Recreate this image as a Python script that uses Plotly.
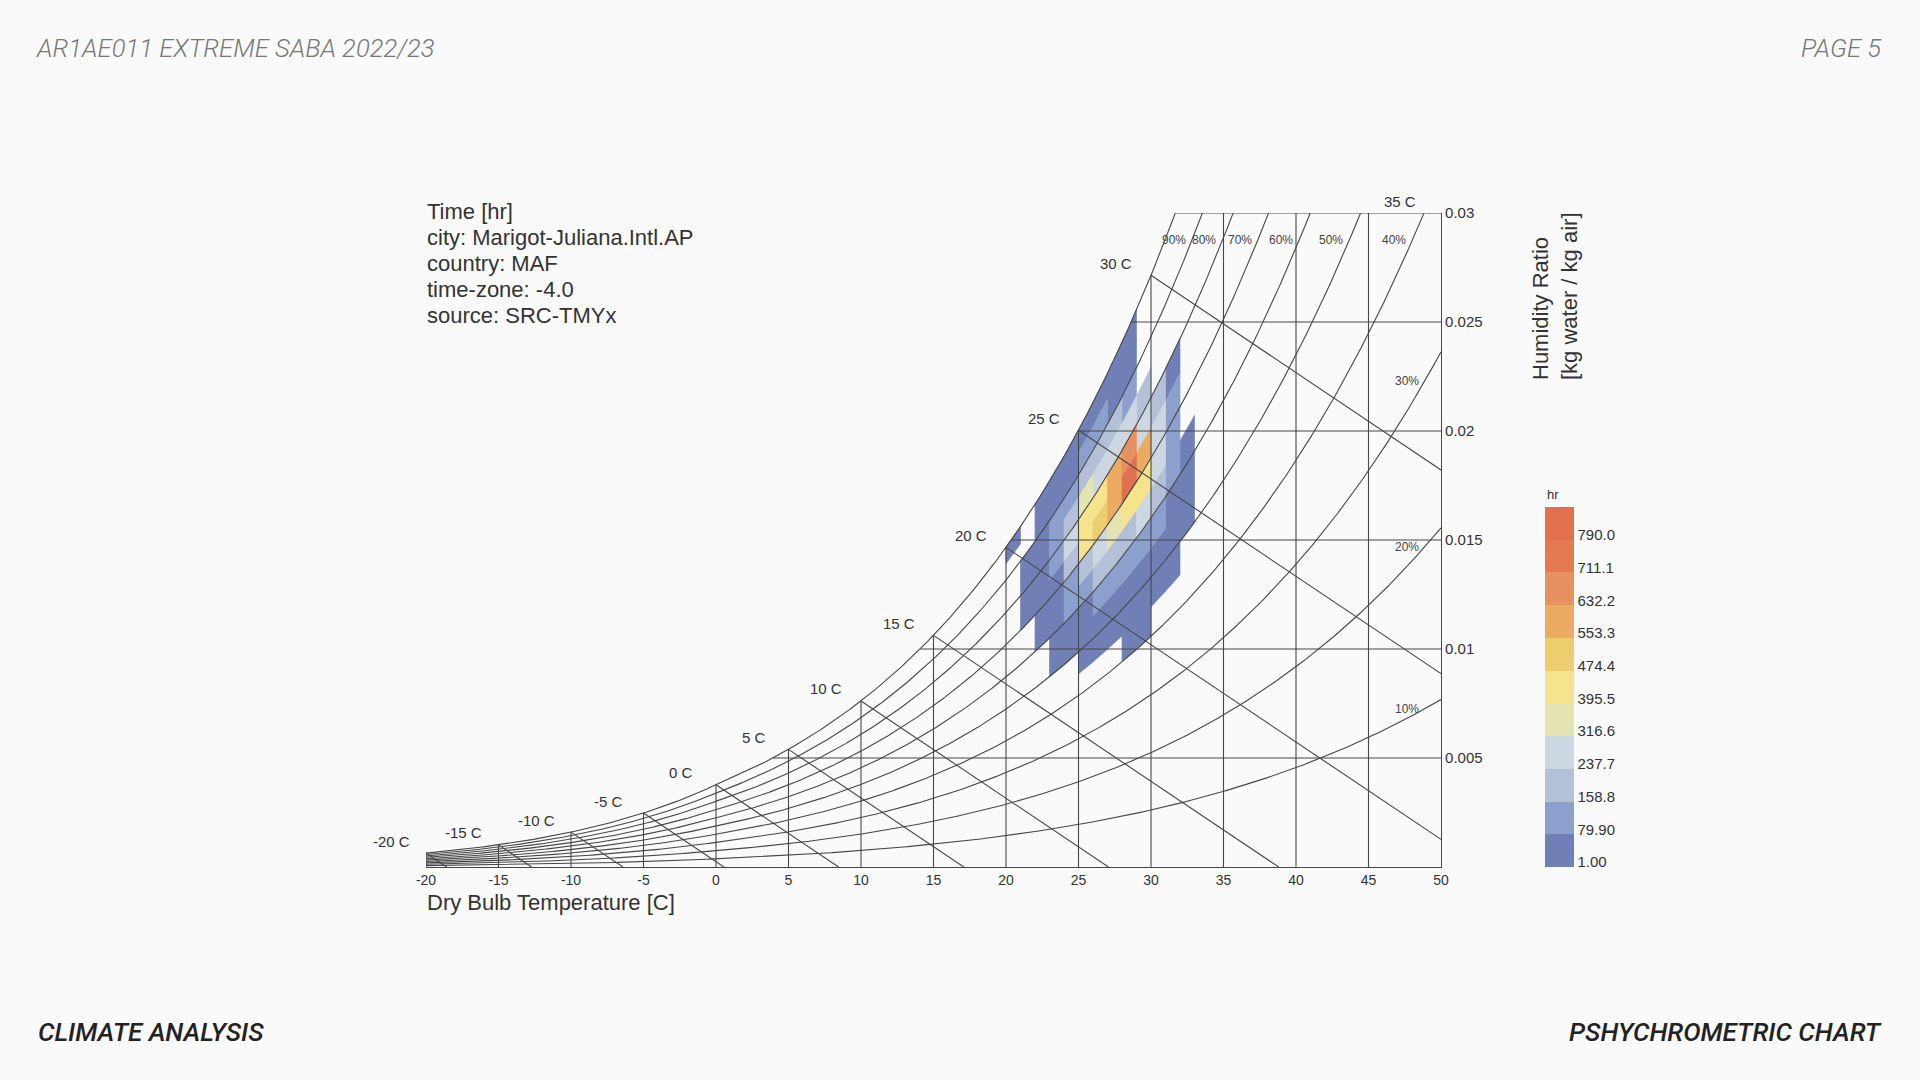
import numpy as np
import plotly.graph_objects as go

# ---------------- data ----------------
temp_ticks = [-20, -15, -10, -5, 0, 5, 10, 15, 20, 25, 30, 35, 40, 45, 50]
temp_tick_text = ["-20", "-15", "-10", "-5", "0", "5", "10", "15", "20", "25", "30", "35", "40", "45", "50"]
hr_ticks = [0.005, 0.01, 0.015, 0.02, 0.025, 0.03]
hr_tick_text = ["0.005", "0.01", "0.015", "0.02", "0.025", "0.03"]
wb_temps = [-20, -15, -10, -5, 0, 5, 10, 15, 20, 25, 30, 35]
rh_lines = [10, 20, 30, 40, 50, 60, 70, 80, 90]

legend_vals = [1.00, 79.90, 158.8, 237.7, 316.6, 395.5, 474.4, 553.3, 632.2, 711.1, 790.0]
legend_text = ["1.00", "79.90", "158.8", "237.7", "316.6", "395.5", "474.4", "553.3", "632.2", "711.1", "790.0"]
legend_colors = ["#7080b6", "#8ca0cd", "#b4c0d8", "#cdd7e1", "#e4e4b2", "#f5e48c",
                 "#ecce6e", "#ebac62", "#e6915f", "#e47a52", "#e0704e"]

# hours per cell: rows = dry bulb bins (lower edge, 1 C wide), cols = RH bins (lower edge, 5 %)
cell_temps = [20, 21, 22, 23, 24, 25, 26, 27, 28, 29, 30, 31, 32]
cell_rh = [40, 45, 50, 55, 60, 65, 70, 75, 80, 85, 90, 95]
hours = [
    [0, 0, 0, 0, 0, 0, 0, 0, 0, 0, 0, 20],
    [0, 0, 0, 0, 0, 0, 10, 15, 10, 10, 0, 0],
    [0, 0, 0, 0, 15, 20, 25, 30, 30, 30, 25, 20],
    [0, 0, 10, 20, 30, 40, 60, 90, 110, 80, 50, 25],
    [0, 0, 20, 40, 70, 120, 200, 260, 200, 120, 60, 30],
    [0, 10, 30, 60, 110, 200, 420, 420, 340, 200, 110, 30],
    [0, 15, 40, 80, 150, 260, 500, 440, 300, 180, 90, 25],
    [0, 20, 50, 100, 200, 330, 620, 580, 280, 150, 60, 15],
    [10, 20, 50, 110, 220, 420, 800, 660, 260, 120, 40, 10],
    [10, 20, 50, 110, 230, 420, 580, 300, 180, 0, 0, 0],
    [0, 20, 40, 90, 170, 250, 250, 180, 0, 0, 0, 0],
    [0, 10, 30, 60, 110, 120, 90, 40, 0, 0, 0, 0],
    [0, 0, 15, 30, 30, 0, 0, 0, 0, 0, 0, 0],
]

info_lines = ["Time [hr]", "city: Marigot-Juliana.Intl.AP", "country: MAF",
              "time-zone: -4.0", "source: SRC-TMYx"]

# ---------------- page geometry ----------------
FW, FH = 1920, 1080


def pxx(x):
    return x / FW


def pxy(y):
    return 1 - y / FH


X0, X1, Y0, Y1 = 426, 1441, 867, 213  # plot frame in screen pixels

# ---------------- psychrometrics ----------------
P = 101.325
T_MIN, T_MAX, W_MAX = -20.0, 50.0, 0.03
K_WB = 2240.0


def pws(t):
    t = np.asarray(t, float)
    water = 0.61094 * np.exp(17.625 * t / (t + 243.04))
    ice = 0.61115 * np.exp(22.452 * t / (272.55 + t))
    return np.where(t >= 0, water, ice)


def hr(t, rh):
    pw = rh * pws(t)
    return 0.622 * pw / (P - pw)


def t_sat(w):
    pw = w * P / (0.622 + w)
    a = np.log(pw / 0.61094)
    return 243.04 * a / (17.625 - a)


def t_at_w(w, rh):
    ts = np.linspace(T_MIN, 60, 20001)
    ws = hr(ts, rh)
    return float(np.interp(w, ws, ts))


def data_to_paper(t, w):
    sx = X0 + (t - T_MIN) / (T_MAX - T_MIN) * (X1 - X0)
    sy = Y0 - w / W_MAX * (Y0 - Y1)
    return pxx(sx), pxy(sy)


LC = "#474747"
lx, ly = [], []


def add_line(xs, ys):
    lx.extend(list(xs) + [None])
    ly.extend(list(ys) + [None])


# RH curves
for rh in rh_lines:
    ts = np.linspace(T_MIN, T_MAX, 700)
    ws = hr(ts, rh / 100)
    keep = ws <= W_MAX
    xs, ys = list(ts[keep]), list(ws[keep])
    if not keep.all():
        xs.append(t_at_w(W_MAX, rh / 100)); ys.append(W_MAX)
    add_line(xs, ys)

# saturation curve
tsat_top = float(t_sat(W_MAX))
ts = np.linspace(T_MIN, tsat_top, 600)
add_line(list(ts) + [tsat_top], list(hr(ts, 1.0)) + [W_MAX])

# dry bulb verticals
for t in temp_ticks[:-1]:
    add_line([t, t], [0, min(float(hr(t, 1.0)), W_MAX)])

# humidity ratio horizontals
for w in hr_ticks:
    add_line([float(t_sat(w)), T_MAX], [w, w])

# wet bulb lines
label_pts = []
for twb in wb_temps:
    ws0 = float(hr(twb, 1.0))
    w_start = min(ws0, W_MAX)
    t_start = twb + K_WB * (ws0 - w_start)
    label_pts.append((twb, t_start, w_start))
    if t_start >= T_MAX or twb > 30:
        continue
    t_end = twb + K_WB * ws0
    if t_end <= T_MAX:
        w_end = 0.0
    else:
        t_end = T_MAX
        w_end = ws0 - (T_MAX - twb) / K_WB
    add_line([t_start, t_end], [w_start, w_end])

# ---------------- figure ----------------
fig = go.Figure()

n_band = len(legend_colors)
step = legend_vals[1] - legend_vals[0]
cmin = legend_vals[0] - 0.15 * step
cmax = cmin + n_band * step
band_x = [[] for _ in range(n_band)]
band_y = [[] for _ in range(n_band)]
for i, t0 in enumerate(cell_temps):
    for j, r0 in enumerate(cell_rh):
        v = hours[i][j]
        if v <= 0:
            continue
        k = int(min(n_band - 1, max(0, (v - cmin) // step)))
        r1 = r0 + 5
        tt = np.linspace(t0, t0 + 1, 8)
        wb = hr(tt, r0 / 100)
        wt = hr(tt[::-1], r1 / 100)
        band_x[k] += list(tt) + list(tt[::-1]) + [tt[0], None]
        band_y[k] += list(wb) + list(wt) + [wb[0], None]
for k in range(n_band):
    if band_x[k]:
        fig.add_trace(go.Scatter(x=band_x[k], y=band_y[k], mode="lines", fill="toself",
                                 fillcolor=legend_colors[k],
                                 line=dict(color=legend_colors[k], width=0.6),
                                 hoverinfo="skip", showlegend=False))

fig.add_trace(go.Scatter(x=lx, y=ly, mode="lines", line=dict(color=LC, width=1.1),
                         hoverinfo="skip", showlegend=False))

FONT = "Liberation Sans, Arial, sans-serif"
cs = []
for k, c in enumerate(legend_colors):
    cs.append([k / n_band, c]); cs.append([(k + 1) / n_band, c])
fig.add_trace(go.Scatter(
    x=[-100], y=[-1], mode="markers", showlegend=False, hoverinfo="skip",
    marker=dict(size=1, color=[legend_vals[0]], colorscale=cs, cmin=cmin, cmax=cmax,
                showscale=True,
                colorbar=dict(x=pxx(1545), xanchor="left", y=pxy(867), yanchor="bottom",
                              lenmode="pixels", len=360,
                              thicknessmode="pixels", thickness=29, xpad=0, ypad=0,
                              outlinewidth=0, tickvals=legend_vals, ticktext=legend_text,
                              ticks="", tickfont=dict(size=15, color="#333333", family=FONT)))))

ann = []
for twb, t_s, w_s in label_pts:
    px_, py_ = data_to_paper(t_s - 2.4, w_s + 0.00055)
    ann.append(dict(x=px_, y=py_, xref="paper", yref="paper", text=f"{twb} C",
                    xanchor="center", yanchor="middle",
                    showarrow=False, font=dict(size=15, color="#333333", family=FONT)))
for rh in rh_lines:
    t_c = min(t_at_w(0.02876, rh / 100), 48.9)
    w_c = float(hr(t_c, rh / 100))
    ann.append(dict(x=t_c - 1.25, y=w_c, xref="x", yref="y", text=f"{rh}%",
                    showarrow=False, font=dict(size=12, color="#444444", family=FONT)))
for i, s in enumerate(info_lines):
    ann.append(dict(x=pxx(425), y=pxy(211 + 26.2 * i), xref="paper", yref="paper",
                    xanchor="left", yanchor="middle", text=s, showarrow=False,
                    font=dict(size=22, color="#333333", family=FONT)))
ann.append(dict(x=pxx(425), y=pxy(902), xref="paper", yref="paper", xanchor="left",
                yanchor="middle", text="Dry Bulb Temperature [C]", showarrow=False,
                font=dict(size=22, color="#333333", family=FONT)))
ann.append(dict(x=pxx(1555), y=pxy(296), xref="paper", yref="paper", xanchor="center",
                yanchor="middle", text="Humidity Ratio<br>[kg water / kg air]", align="left",
                textangle=-90, showarrow=False, font=dict(size=22, color="#333333", family=FONT)))
ann.append(dict(x=pxx(1545), y=pxy(494), xref="paper", yref="paper", xanchor="left",
                yanchor="middle", text="hr", showarrow=False,
                font=dict(size=13, color="#333333", family=FONT)))
RB = "Roboto, sans-serif"
ann.append(dict(x=pxx(34), y=pxy(48), xref="paper", yref="paper", xanchor="left",
                yanchor="middle", text="AR1AE011 EXTREME SABA 2022/23", showarrow=False,
                font=dict(size=25.6, color="#777777", family=RB, style="italic", weight=300)))
ann.append(dict(x=pxx(1884), y=pxy(48), xref="paper", yref="paper", xanchor="right",
                yanchor="middle", text="PAGE 5", showarrow=False,
                font=dict(size=25.6, color="#777777", family=RB, style="italic", weight=300)))
ann.append(dict(x=pxx(36), y=pxy(1032), xref="paper", yref="paper", xanchor="left",
                yanchor="middle", text="CLIMATE ANALYSIS", showarrow=False,
                font=dict(size=26, color="#222222", family=RB, style="italic", weight=500)))
ann.append(dict(x=pxx(1884), y=pxy(1032), xref="paper", yref="paper", xanchor="right",
                yanchor="middle", text="PSHYCHROMETRIC CHART", showarrow=False,
                font=dict(size=26, color="#222222", family=RB, style="italic", weight=500)))

fig.update_layout(
    width=FW, height=FH, autosize=False,
    margin=dict(l=0, r=0, t=0, b=0, pad=0, autoexpand=False),
    paper_bgcolor="#fafafa", plot_bgcolor="#fafafa",
    showlegend=False, annotations=ann,
    xaxis=dict(domain=[pxx(X0), pxx(X1)], range=[T_MIN, T_MAX], tickvals=temp_ticks,
               ticktext=temp_tick_text, automargin=False,
               showgrid=False, zeroline=False, showline=True, linecolor=LC, linewidth=1.2,
               ticks="", tickfont=dict(size=14, color="#333333", family=FONT), fixedrange=True),
    yaxis=dict(domain=[pxy(Y0), pxy(Y1)], range=[0, W_MAX], side="right", automargin=False,
               tickvals=hr_ticks, ticktext=hr_tick_text, showgrid=False, zeroline=False,
               showline=True, linecolor=LC, linewidth=1.2, ticks="",
               tickfont=dict(size=15, color="#333333", family=FONT), fixedrange=True),
)

fig.write_html("out.html", config={"displayModeBar": False},
               post_script="document.body.style.margin='0';document.body.style.overflow='hidden';"
                           "document.body.style.background='#fafafa';")
